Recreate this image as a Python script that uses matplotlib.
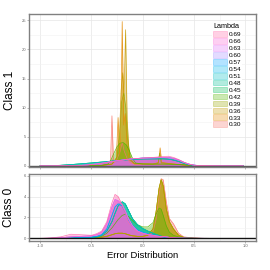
import matplotlib
matplotlib.use("Agg")
import matplotlib.pyplot as plt
from matplotlib.patches import Patch
from matplotlib.colors import to_rgba
import numpy as np

plt.rcParams["font.family"] = ["Liberation Sans", "DejaVu Sans"]

lambdas = ["0.30", "0.33", "0.36", "0.39", "0.42", "0.45", "0.48",
           "0.51", "0.54", "0.57", "0.60", "0.63", "0.66", "0.69"]
colors = ["#F8766D", "#E38900", "#C49A00", "#99A800", "#53B400", "#00BC56", "#00C094",
          "#00BFC4", "#00B6EB", "#06A4FF", "#A58AFF", "#DF70F8", "#FB61D7", "#FF66A8"]

# ---- Class 1 (top panel) ----
x1 = [-1.0, -0.9, -0.8, -0.7, -0.6, -0.5, -0.4, -0.3, -0.2, -0.1, 0.0, 0.1,
      0.2, 0.25, 0.3, 0.35, 0.4, 0.45, 0.5, 0.55, 0.6, 0.7, 0.8, 0.98]
c1_purple = [0, 0, 0.01, 0.03, 0.08, 0.22, 0.45, 0.75, 1.0, 1.22, 1.33, 1.38,
             1.42, 1.4, 1.28, 1.0, 0.6, 0.3, 0.12, 0.05, 0.03, 0.01, 0, 0]
c1_pink = [0, 0, 0.01, 0.03, 0.07, 0.2, 0.4, 0.7, 0.95, 1.2, 1.35, 1.45,
           1.6, 1.65, 1.45, 1.1, 0.65, 0.3, 0.12, 0.05, 0.03, 0.01, 0, 0]
c1_teal = [0, 0.02, 0.1, 0.22, 0.36, 0.5, 0.66, 0.82, 0.98, 1.1, 1.18, 1.2,
           1.2, 1.15, 1.0, 0.75, 0.45, 0.2, 0.08, 0.04, 0.02, 0.01, 0, 0]

x1_green = [-1.0, -0.6, -0.4, -0.34, -0.31, -0.28, -0.25, -0.22, -0.19, -0.16,
            -0.13, -0.1, -0.07, 0.0, 0.2, 0.4, 0.5, 0.98]
c1_green = [0, 0.03, 0.1, 0.3, 1.0, 2.2, 3.3, 3.9, 4.0, 3.6,
            2.6, 1.3, 0.5, 0.3, 0.3, 0.2, 0.05, 0]

x1_olive = [-1.0, -0.6, -0.4, -0.3, -0.25, -0.225, -0.205, -0.185, -0.165, -0.15,
            -0.12, -0.08, 0.1, 0.15, 0.165, 0.18, 0.3, 0.5, 0.98]
c1_olive = [0, 0.02, 0.08, 0.3, 1.5, 5, 11, 12.5, 10, 5,
            1, 0.4, 0.3, 0.4, 2.2, 0.5, 0.3, 0.04, 0]

x1_khaki = [-1.0, -0.6, -0.4, -0.3, -0.25, -0.225, -0.21, -0.195, -0.182, -0.167,
            -0.152, -0.135, -0.12, -0.08, 0.1, 0.3, 0.5, 0.98]
c1_khaki = [0, 0.02, 0.08, 0.3, 1.5, 6, 13, 16, 12, 23.4,
            8, 3, 1.2, 0.4, 0.3, 0.3, 0.04, 0]

x1_gold = [-1.0, -0.6, -0.4, -0.3, -0.258, -0.24, -0.225, -0.215, -0.2, -0.185,
           -0.17, -0.15, -0.13, -0.08, 0.1, 0.155, 0.17, 0.185, 0.3, 0.4, 0.5, 0.98]
c1_gold = [0, 0.02, 0.08, 0.3, 1, 8.3, 2, 5, 24.8, 7,
           9, 3, 1.0, 0.3, 0.3, 0.6, 3.1, 0.6, 0.3, 0.12, 0.03, 0]

x1_salmon = [-1.0, -0.6, -0.4, -0.315, -0.3, -0.285, -0.26, -0.22, -0.2, -0.18,
             -0.15, -0.12, -0.08, 0.1, 0.3, 0.4, 0.5, 0.98]
c1_salmon = [0, 0.02, 0.08, 0.3, 8.6, 0.6, 0.8, 2.5, 4, 2.5,
             1.2, 0.5, 0.3, 0.3, 0.35, 0.15, 0.04, 0]

class1 = [(x1_salmon, c1_salmon), (x1_gold, c1_gold), (x1_khaki, c1_khaki),
          (x1_olive, c1_olive), (x1_green, c1_green), (x1, c1_teal), (x1, c1_teal),
          (x1, c1_teal), (x1, c1_purple), (x1, c1_purple), (x1, c1_purple),
          (x1, c1_purple), (x1, c1_purple), (x1, c1_pink)]

# ---- Class 0 (bottom panel) ----
x0 = [-1.0, -0.9, -0.8, -0.7, -0.6, -0.5, -0.45, -0.4, -0.35, -0.3, -0.27,
      -0.24, -0.2, -0.17, -0.14, -0.1, -0.05, 0.0, 0.05, 0.1, 0.13, 0.16,
      0.18, 0.2, 0.23, 0.26, 0.3, 0.35, 0.4, 0.5, 0.6, 0.8, 0.98]
c0_pink = [0.01, 0.05, 0.15, 0.4, 0.35, 0.3, 0.45, 0.7, 1.6, 3.4, 4.2,
           4.0, 3.2, 2.4, 1.6, 1.0, 0.6, 0.45, 0.35, 0.28, 0.22, 0.2,
           0.2, 0.2, 0.15, 0.1, 0.07, 0.04, 0.03, 0.02, 0.01, 0, 0]
c0_purple = [0, 0.02, 0.06, 0.15, 0.2, 0.25, 0.35, 0.6, 1.4, 3.0, 3.7,
             3.6, 3.2, 2.6, 1.9, 1.2, 0.7, 0.5, 0.38, 0.3, 0.24, 0.2,
             0.2, 0.18, 0.15, 0.1, 0.06, 0.04, 0.03, 0.02, 0.01, 0, 0]
c0_blue = [0, 0.01, 0.03, 0.05, 0.08, 0.12, 0.18, 0.35, 0.9, 2.2, 3.0,
           3.3, 3.1, 2.5, 1.8, 1.2, 0.8, 0.6, 0.45, 0.34, 0.27, 0.2,
           0.17, 0.14, 0.1, 0.07, 0.05, 0.03, 0.02, 0.01, 0, 0, 0]
c0_teal = [0, 0.01, 0.02, 0.04, 0.06, 0.1, 0.15, 0.3, 0.7, 1.6, 2.4,
           3.1, 3.5, 3.3, 2.7, 1.9, 1.3, 0.95, 0.7, 0.5, 0.38, 0.28,
           0.22, 0.18, 0.14, 0.1, 0.06, 0.04, 0.02, 0.01, 0, 0, 0]
c0_green = [0, 0.01, 0.02, 0.03, 0.05, 0.08, 0.12, 0.2, 0.5, 1.0, 1.4,
            1.8, 2.2, 2.3, 2.1, 1.7, 1.3, 1.1, 1.1, 1.5, 2.3, 2.9,
            2.8, 2.2, 1.2, 0.6, 0.3, 0.15, 0.08, 0.03, 0.01, 0, 0]
c0_gold = [0, 0, 0, 0.02, 0.03, 0.05, 0.08, 0.12, 0.2, 0.35, 0.45,
           0.5, 0.5, 0.45, 0.35, 0.25, 0.2, 0.2, 0.3, 0.9, 2.5, 4.8,
           5.6, 5.0, 2.8, 1.6, 0.9, 0.3, 0.1, 0.02, 0, 0, 0]
c0_tan = [0, 0, 0, 0.02, 0.03, 0.05, 0.08, 0.12, 0.2, 0.35, 0.45,
          0.5, 0.5, 0.45, 0.35, 0.25, 0.2, 0.2, 0.25, 0.6, 1.8, 4.2,
          5.7, 5.6, 3.5, 1.9, 1.4, 0.5, 0.15, 0.03, 0, 0, 0]

class0 = [c0_tan, c0_gold, c0_gold, c0_gold, c0_green, c0_teal, c0_teal,
          c0_teal, c0_blue, c0_blue, c0_purple, c0_purple, c0_purple, c0_pink]

fig = plt.figure(figsize=(2.7, 2.7), dpi=100)
ax1 = fig.add_axes([0.109, 0.381, 0.839, 0.568])
ax0 = fig.add_axes([0.109, 0.108, 0.839, 0.248])


def style(ax, major_y, minor_y, ylim, show_x):
    ax.set_xlim(-1.105, 1.105)
    ax.set_ylim(*ylim)
    ax.set_xticks([-1.0, -0.5, 0.0, 0.5, 1.0])
    ax.set_xticks([-0.75, -0.25, 0.25, 0.75], minor=True)
    ax.set_yticks(major_y)
    ax.set_yticks(minor_y, minor=True)
    ax.grid(which="major", color="#e6e6e6", lw=0.5)
    ax.grid(which="minor", color="#f2f2f2", lw=0.4)
    ax.set_axisbelow(True)
    for s in ax.spines.values():
        s.set_color("#808080")
        s.set_linewidth(1.0)
    ax.tick_params(which="major", length=1.5, width=0.4, color="#808080",
                   labelsize=3, labelcolor="#666666", pad=1)
    ax.tick_params(which="minor", length=0)
    if show_x:
        ax.set_xticklabels(["-1.0", "-0.5", "0.0", "0.5", "1.0"])
    else:
        ax.set_xticklabels([])


for i, (xs, ys) in enumerate(class1):
    ax1.fill_between(xs, ys, color=colors[i], alpha=0.4, lw=0)
    ax1.plot(xs, ys, color=colors[i], lw=0.5, alpha=0.9)
for i, ys in enumerate(class0):
    ax0.fill_between(x0, ys, color=colors[i], alpha=0.4, lw=0)
    ax0.plot(x0, ys, color=colors[i], lw=0.5, alpha=0.9)

ax1.axhline(0, color="#555555", lw=1.0)
ax0.axhline(0, color="#111111", lw=1.0)

style(ax1, [0, 5, 10, 15, 20, 25], [2.5, 7.5, 12.5, 17.5, 22.5], (-0.22, 26.14), False)
style(ax0, [0, 2, 4, 6], [1, 3, 5], (-0.23, 6.16), True)

ax1.set_ylabel("Class 1", fontsize=8.5, labelpad=4)
ax0.set_ylabel("Class 0", fontsize=8.5, labelpad=6)
ax0.set_xlabel("Error Distribution", fontsize=6.8, labelpad=2)

handles = [Patch(facecolor=to_rgba(colors[i], 0.3), edgecolor=to_rgba(colors[i], 0.5),
                 lw=0.4, label=lambdas[i]) for i in range(len(lambdas) - 1, -1, -1)]
leg = ax1.legend(handles=handles, title="Lambda", loc="upper left",
                 bbox_to_anchor=(212 / 270, 1 - 22 / 270), bbox_transform=fig.transFigure,
                 fontsize=4.6, title_fontsize=5.2, handlelength=2.2, handleheight=1.0,
                 labelspacing=0.14, handletextpad=0.15, borderpad=0.2,
                 frameon=True, fancybox=False, framealpha=1.0, borderaxespad=0)
leg.get_frame().set_edgecolor("none")
leg._legend_box.align = "left"

fig.savefig("out.png", dpi=100)
